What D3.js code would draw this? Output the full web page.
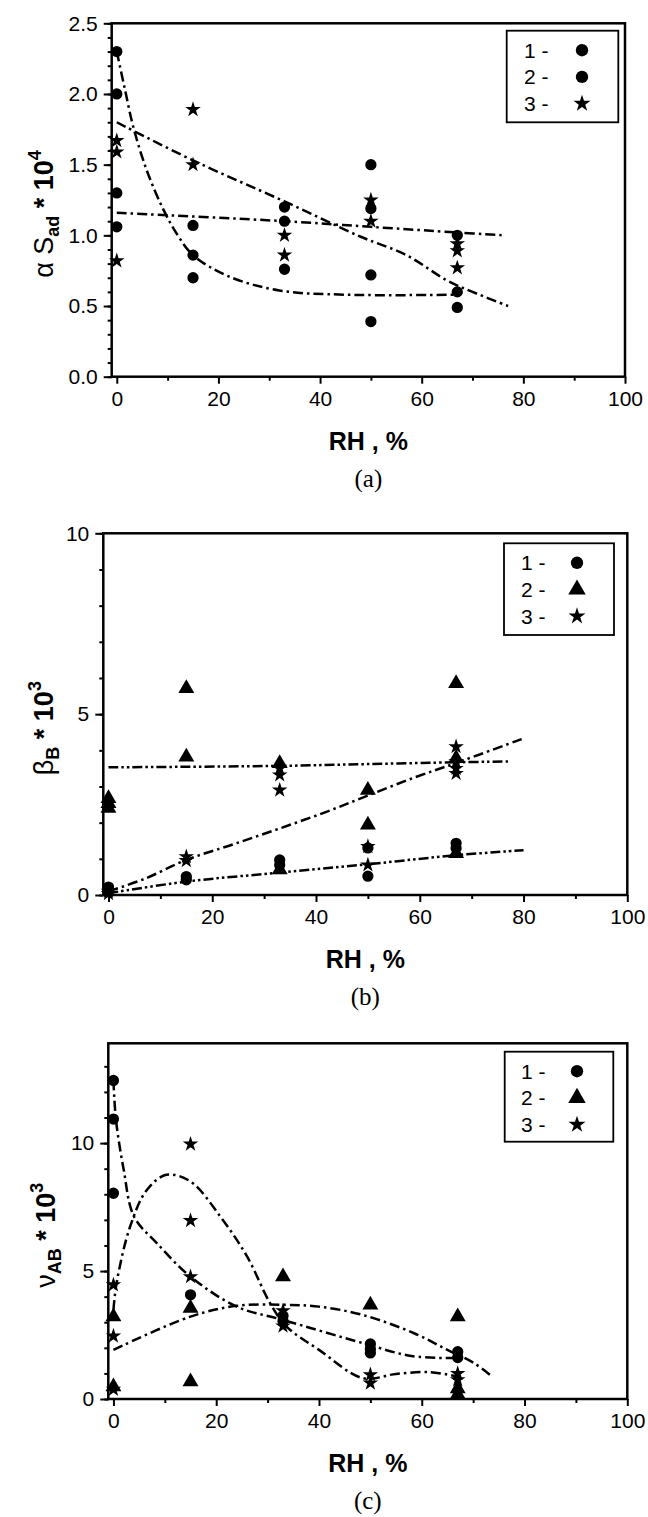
<!DOCTYPE html>
<html>
<style>
    body { margin: 0; background: #fff; }
    svg text { font-family: "Liberation Sans", Arial, sans-serif; fill: #000; }
    .tick text { font-size: 21px; }
    .axis-title { font-size: 25px; font-weight: bold; }
    .y-title { font-size: 27px; font-weight: bold; }
    .panel-tag { font-family: "Liberation Serif", "Times New Roman", serif; font-size: 25px; }
    .fit { fill: none; stroke: #000; stroke-width: 2.5; }
    .legend-text { font-size: 21px; }
</style>
<body>
<svg id="viz" width="648" height="1517"></svg>

<script src="https://cdnjs.cloudflare.com/ajax/libs/d3/7.8.5/d3.min.js"></script>
<script>
    // RH axis ticks (shared)
    var xMajor = [0, 20, 40, 60, 80, 100];
    var xMinor = [10, 30, 50, 70, 90];

    // panel (a): alpha S_ad * 10^4
    var aSeries1 = [[0, 2.30], [0, 2.00], [15, 0.86], [15, 0.70], [33, 0.76], [50, 0.72], [50, 0.39], [67, 0.60], [67, 0.49]];
    var aSeries2 = [[0, 1.30], [0, 1.06], [15, 1.07], [33, 1.20], [33, 1.10], [50, 1.50], [50, 1.19], [67, 1.00]];
    var aSeries3 = [[0, 1.67], [0, 1.59], [0, 0.82], [15, 1.89], [15, 1.50], [33, 1.00], [33, 0.86], [50, 1.25], [50, 1.10], [67, 0.94], [67, 0.89], [67, 0.77]];
    var aFit1 = [[0, 2.30], [1.5, 2.05], [3.3, 1.76], [6, 1.45], [9.2, 1.18], [12, 1.00], [15, 0.86], [22, 0.71], [32, 0.61], [45, 0.58], [67, 0.58]];
    var aFit2 = [[0, 1.80], [15, 1.53], [33, 1.24], [48, 0.99], [57, 0.86], [65, 0.68], [70, 0.60], [77, 0.50]];
    var aFit3 = [[0, 1.16], [33, 1.10], [50, 1.06], [67, 1.02], [76, 1.00]];
    var aYMajor = [0, 0.5, 1.0, 1.5, 2.0, 2.5];
    var aYMinor = d3.range(0, 2.51, 0.1);

    // panel (b): beta_B * 10^3
    var bSeries1 = [[0, 0.22], [0, 0.12], [15, 0.51], [15, 0.42], [33, 0.97], [33, 0.83], [50, 1.30], [50, 0.52], [67, 1.43], [67, 1.29]];
    var bSeries2 = [[0, 2.67], [0, 2.53], [0, 2.40], [15, 5.71], [15, 3.82], [33, 3.64], [33, 0.70], [50, 2.90], [50, 1.94], [67, 5.85], [67, 3.78], [67, 1.15]];
    var bSeries3 = [[0, 0.10], [0, 0.04], [15, 1.06], [15, 0.95], [33, 3.50], [33, 3.32], [33, 2.90], [50, 1.34], [50, 0.83], [67, 4.10], [67, 3.68], [67, 3.50], [67, 3.36]];
    var bFit1 = [[0, 3.53], [33, 3.57], [50, 3.62], [67, 3.67], [77, 3.69]];
    var bFit2 = [[0, 0.10], [7, 0.45], [15, 0.97], [24, 1.40], [33, 1.84], [42, 2.30], [50, 2.75], [59, 3.25], [67, 3.65], [80, 4.33]];
    var bFit3 = [[0, 0.05], [15, 0.37], [33, 0.62], [50, 0.85], [67, 1.10], [80, 1.24]];
    var bYMajor = [0, 5, 10];
    var bYMinor = d3.range(0, 10.1, 1);

    // panel (c): nu_AB * 10^3
    var cSeries1 = [[0, 12.45], [0, 10.94], [0, 8.04], [15, 4.07], [33, 3.25], [33, 3.05], [50, 2.15], [50, 1.95], [50, 1.80], [67, 1.85], [67, 1.62]];
    var cSeries2 = [[0, 3.22], [0, 0.48], [15, 3.55], [15, 0.68], [33, 4.78], [50, 3.68], [67, 3.22], [67, 0.40], [67, 0.18]];
    var cSeries3 = [[0, 4.46], [0, 2.46], [0, 0.38], [15, 9.96], [15, 6.97], [15, 4.78], [33, 3.45], [33, 2.85], [50, 0.95], [50, 0.62], [67, 1.00], [67, 0.75]];
    var cFit1 = [[0, 12.45], [0.5, 10.9], [2, 8.96], [4, 7.13], [8.4, 6.1], [15, 4.78], [24, 3.61], [33, 3.09], [48.6, 2.18], [58, 1.68], [67, 1.60]];
    var cFit2 = [[0, 3.48], [0.6, 4.52], [3.25, 6.74], [6.5, 8.17], [10.3, 8.76], [15, 8.5], [20.8, 7.13], [26, 5.57], [30.5, 3.74], [33.7, 2.83], [40, 1.92], [48.6, 0.81], [55, 0.98], [61.7, 1.05], [67, 0.87]];
    var cFit3 = [[0, 1.92], [15, 3.22], [24, 3.64], [33, 3.68], [40, 3.61], [48.6, 3.28], [58.5, 2.57], [65, 1.92], [70.2, 1.40], [73.7, 0.87]];
    var cYMajor = [0, 5, 10];
    var cYMinor = d3.range(0, 13.1, 1);

    var legendLabels = ['1 -', '2 -', '3 -'];

    var svg = d3.select('#viz');

    var dashDot = '10,4,2.5,4';
    var dashDotDot = '10,3,2.5,3,2.5,3';

    var panels = [
        {
            left: 111.7, right: 625, top: 23.3, bottom: 376.7, yMax: 2.5,
            yMajor: aYMajor, yMinor: aYMinor, yFormat: d3.format('.1f'),
            series: [aSeries1, aSeries2, aSeries3], symbols: [d3.symbolCircle, d3.symbolCircle, d3.symbolStar],
            fits: [aFit1, aFit2, aFit3], dashes: [dashDot, dashDot, dashDot],
            legend: { x: 506.7, y: 30.7, w: 111.6, h: 91.6, textX: 524, symX: 582 },
            ylabel: ['\u03b1 S', 'ad', ' * 10', '4'], ylabelX: 53, tag: '(a)'
        },
        {
            left: 103.3, right: 627.3, top: 533.3, bottom: 895, yMax: 10,
            yMajor: bYMajor, yMinor: bYMinor, yFormat: d3.format('d'),
            series: [bSeries1, bSeries2, bSeries3], symbols: [d3.symbolCircle, d3.symbolTriangle, d3.symbolStar],
            fits: [bFit1, bFit2, bFit3], dashes: [dashDotDot, dashDot, dashDotDot],
            legend: { x: 504, y: 543.3, w: 110, h: 91.7, textX: 521, symX: 577 },
            ylabel: ['\u03b2', 'B', ' * 10', '3'], ylabelX: 53, tag: '(b)'
        },
        {
            left: 108.3, right: 627.3, top: 1043.3, bottom: 1399, yMax: 13.9,
            yMajor: cYMajor, yMinor: cYMinor, yFormat: d3.format('d'),
            series: [cSeries1, cSeries2, cSeries3], symbols: [d3.symbolCircle, d3.symbolTriangle, d3.symbolStar],
            fits: [cFit1, cFit2, cFit3], dashes: [dashDot, dashDot, dashDot],
            legend: { x: 504.7, y: 1051.7, w: 108.6, h: 90, textX: 521, symX: 577 },
            ylabel: ['\u03bd', 'AB', ' * 10', '3'], ylabelX: 55, tag: '(c)'
        }
    ];

    var symbolSize = { circle: 100, triangle: 110, star: 75 };

    function sizeFor(sym, scale) {
        var s = sym === d3.symbolCircle ? symbolSize.circle : (sym === d3.symbolTriangle ? symbolSize.triangle : symbolSize.star);
        return s * (scale || 1);
    }

    panels.forEach(drawPanel);

    function drawPanel(p) {
        var x = d3.scaleLinear().domain([-1, 100]).range([p.left, p.right]);
        var y = d3.scaleLinear().domain([0, p.yMax]).range([p.bottom, p.top]);
        var g = svg.append('g');

        // minor ticks
        g.append('g')
            .attr('transform', 'translate(0,' + p.bottom + ')')
            .call(d3.axisBottom(x).tickValues(xMinor).tickSize(4).tickFormat(''));
        g.append('g')
            .attr('transform', 'translate(' + p.left + ',0)')
            .call(d3.axisLeft(y).tickValues(p.yMinor).tickSize(4).tickFormat(''));

        // major ticks
        g.append('g')
            .attr('transform', 'translate(0,' + p.bottom + ')')
            .call(d3.axisBottom(x).tickValues(xMajor).tickSize(7).tickPadding(7).tickFormat(d3.format('d')));
        g.append('g')
            .attr('transform', 'translate(' + p.left + ',0)')
            .call(d3.axisLeft(y).tickValues(p.yMajor).tickSize(8).tickPadding(6).tickFormat(p.yFormat));

        g.selectAll('.domain').remove();
        g.selectAll('.tick line').attr('stroke', '#000').attr('stroke-width', 2);
        g.selectAll('.tick text').attr('font-family', null).attr('font-size', null);

        // frame
        g.append('rect')
            .attr('x', p.left).attr('y', p.top)
            .attr('width', p.right - p.left).attr('height', p.bottom - p.top)
            .attr('fill', 'none').attr('stroke', '#000').attr('stroke-width', 2.5);

        // fitted curves
        var line = d3.line()
            .x(function(d) { return x(d[0]); })
            .y(function(d) { return y(d[1]); })
            .curve(d3.curveCatmullRom.alpha(0.5));

        p.fits.forEach(function(f, i) {
            g.append('path')
                .attr('class', 'fit')
                .attr('d', line(f))
                .attr('stroke-dasharray', p.dashes[i]);
        });

        // points
        p.series.forEach(function(s, i) {
            var sym = d3.symbol().type(p.symbols[i]).size(sizeFor(p.symbols[i]));
            g.selectAll(null)
                .data(s)
                .enter()
                .append('path')
                .attr('d', sym)
                .attr('fill', '#000')
                .attr('transform', function(d) { return 'translate(' + x(d[0]) + ',' + y(d[1]) + ')'; });
        });

        // legend
        var L = p.legend;
        g.append('rect')
            .attr('x', L.x).attr('y', L.y).attr('width', L.w).attr('height', L.h)
            .attr('fill', '#fff').attr('stroke', '#000').attr('stroke-width', 1.8);
        legendLabels.forEach(function(t, i) {
            var cy = L.y + 19.5 + i * 26.7;
            g.append('text')
                .attr('class', 'legend-text')
                .attr('x', L.textX).attr('y', cy + 7.5)
                .text(t);
            g.append('path')
                .attr('d', d3.symbol().type(p.symbols[i]).size(sizeFor(p.symbols[i], 1.2)))
                .attr('fill', '#000')
                .attr('transform', 'translate(' + L.symX + ',' + cy + ')');
        });

        // axis titles
        var cx = (p.left + p.right) / 2;
        g.append('text')
            .attr('class', 'axis-title')
            .attr('x', cx).attr('y', p.bottom + 73)
            .attr('text-anchor', 'middle')
            .text('RH , %');

        g.append('text')
            .attr('class', 'panel-tag')
            .attr('x', cx).attr('y', p.bottom + 110)
            .attr('text-anchor', 'middle')
            .text(p.tag);

        var yl = g.append('text')
            .attr('class', 'y-title')
            .attr('text-anchor', 'middle')
            .attr('transform', 'translate(' + p.ylabelX + ',' + ((p.top + p.bottom) / 2 + 14) + ') rotate(-90)');
        yl.append('tspan').attr('font-weight', 'normal').text(p.ylabel[0]);
        yl.append('tspan').attr('font-size', '18px').attr('dy', 6).text(p.ylabel[1]);
        yl.append('tspan').attr('dy', -6).text(p.ylabel[2]);
        yl.append('tspan').attr('font-size', '18px').attr('dy', -12).text(p.ylabel[3]);
    }
</script>
</body>
</html>
